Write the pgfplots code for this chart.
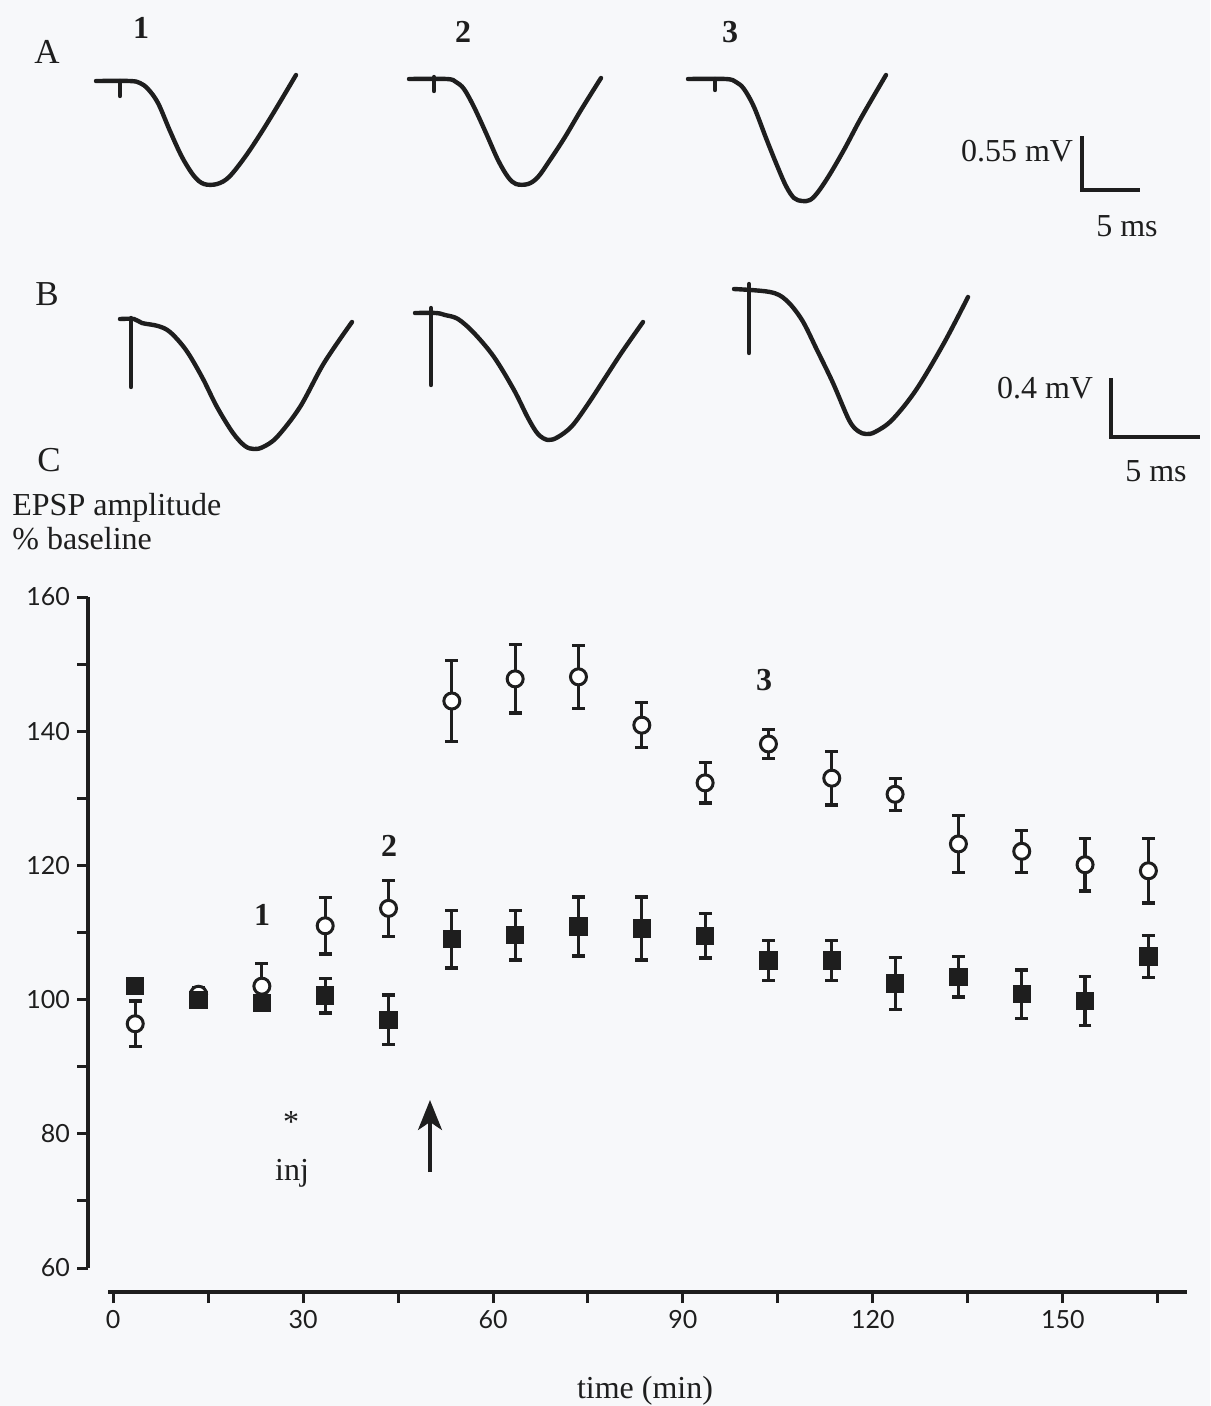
\documentclass[border=0pt]{standalone}
\usepackage{fontspec}
\setmainfont{Liberation Serif}
\newfontfamily\ticksf{Lato}
\usepackage{pgfplots}
\pgfplotsset{compat=1.18}
\usetikzlibrary{arrows.meta}
\definecolor{ink}{HTML}{1E1E1E}
\definecolor{bg}{HTML}{F7F8FA}
\newcommand\txt{\fontsize{16}{19}\selectfont}
\newcommand\btxt{\fontsize{16}{19}\selectfont\bfseries}
\newcommand\ltxt{\fontsize{17.5}{20}\selectfont}
\begin{document}
\begin{tikzpicture}
% ---------- canvas in pixel units (traces, scale bars, texts) ----------
\begin{axis}[at={(0,0)}, anchor=north west, scale only axis,
  width=605pt, height=703pt, xmin=0, xmax=1210, ymin=0, ymax=1406,
  y dir=reverse, axis line style={draw=none}, ticks=none,
  axis background/.style={fill=bg}, clip=false,
  trace/.style={ink, no marks, line width=2.2pt, line join=round, line cap=round, smooth, tension=0.55},
  stim/.style={ink, no marks, line width=2.2pt, line cap=round, sharp plot}]
% traces A
\addplot[trace] coordinates {(96,81) (130,81) (140,83) (148,89) (158,103) (170,131) (182,157) (194,176) (204,184) (217,184) (229,177) (245,157) (261,133) (277,107) (296,75)};
\addplot[stim] coordinates {(120,81) (120,96)};
\addplot[trace] coordinates {(409,79) (447,79) (456,82) (464,89) (474,107) (486,133) (498,160) (508,177) (516,184) (528,184) (538,177) (550,160) (565,137) (581,110) (601,78)};
\addplot[stim] coordinates {(434,77) (434,91)};
\addplot[trace] coordinates {(688,79) (726,79) (736,82) (744,89) (754,107) (766,138) (776,163) (786,186) (794,198) (802,201) (810,200) (818,192) (830,174) (845,148) (861,118) (886,75)};
\addplot[stim] coordinates {(715,79) (715,90)};
% traces B
\addplot[trace] coordinates {(120,319) (134,319) (142,323) (158,326) (170,332) (186,350) (202,377) (217,407) (233,433) (245,446) (254,449) (263,447) (277,437) (300,407) (324,363) (352,322)};
\addplot[stim] coordinates {(131,318) (131,387)};
\addplot[trace] coordinates {(415,313) (436,313) (445,315) (458,319) (474,333) (494,357) (514,390) (528,418) (538,434) (548,440) (558,437) (572,426) (588,404) (605,378) (622,352) (643,322)};
\addplot[stim] coordinates {(431,308) (431,385)};
\addplot[trace] coordinates {(734,289) (770,292) (786,300) (802,320) (817,350) (833,383) (849,420) (858,431) (866,434) (875,432) (892,420) (916,390) (944,343) (968,297)};
\addplot[stim] coordinates {(749,284) (749,353)};
% scale bars
\addplot[stim, line cap=butt] coordinates {(1082,136) (1082,190) (1140,190)};
\addplot[stim, line cap=butt] coordinates {(1111,378) (1111,437) (1200,437)};
% arrow in C
\addplot[ink, no marks, line width=1.6pt, -{Stealth[length=15pt, width=12pt, inset=4pt]}] coordinates {(430,1172) (430,1100)};
% texts
\node[anchor=base, font=\ltxt, text=ink, inner sep=0] at (axis cs:47,63) {A};
\node[anchor=base, font=\ltxt, text=ink, inner sep=0] at (axis cs:47,305) {B};
\node[anchor=base, font=\ltxt, text=ink, inner sep=0] at (axis cs:49,471) {C};
\node[anchor=base, font=\btxt, text=ink, inner sep=0] at (axis cs:141,38) {1};
\node[anchor=base, font=\btxt, text=ink, inner sep=0] at (axis cs:463,42) {2};
\node[anchor=base, font=\btxt, text=ink, inner sep=0] at (axis cs:730,42) {3};
\node[anchor=base, font=\txt, text=ink, inner sep=0] at (axis cs:1017,161) {0.55 mV};
\node[anchor=base, font=\txt, text=ink, inner sep=0] at (axis cs:1127,236) {5 ms};
\node[anchor=base, font=\txt, text=ink, inner sep=0] at (axis cs:1045,398) {0.4 mV};
\node[anchor=base, font=\txt, text=ink, inner sep=0] at (axis cs:1156,481) {5 ms};
\node[anchor=base west, font=\txt, text=ink, inner sep=0] at (axis cs:12,515) {EPSP amplitude};
\node[anchor=base west, font=\txt, text=ink, inner sep=0] at (axis cs:12,549) {\% baseline};
\node[anchor=base, font=\txt, text=ink, inner sep=0] at (axis cs:645,1398) {time (min)};
\node[anchor=base, font=\btxt, text=ink, inner sep=0] at (axis cs:262,925) {1};
\node[anchor=base, font=\btxt, text=ink, inner sep=0] at (axis cs:389,856) {2};
\node[anchor=base, font=\btxt, text=ink, inner sep=0] at (axis cs:764,690) {3};
\node[anchor=center, font=\txt, text=ink, inner sep=0] at (axis cs:291,1122) {*};
\node[anchor=base, font=\txt, text=ink, inner sep=0] at (axis cs:292,1180) {inj};
\end{axis}
% ---------- panel C ----------
\begin{axis}[at={(54pt,-634pt)}, anchor=south west, scale only axis,
  width=539.5pt, height=335.5pt,
  xmin=-0.8, xmax=169.6, ymin=60, ymax=160,
  axis lines=left, axis line style={-, line width=1.7pt, ink},
  axis x line shift=12pt, axis y line shift=10pt,
  xtick={0,30,...,150}, minor xtick={15,45,...,165},
  ytick={60,80,...,160}, minor ytick={70,90,...,150},
  tick align=outside, major tick length=5.5pt, minor tick length=5.5pt,
  every tick/.style={line width=1.5pt, ink},
  every minor tick/.style={line width=1.5pt, ink},
  tick label style={font=\ticksf\fontsize{12.5}{14}\selectfont, text=ink},
  /pgf/number format/assume math mode=true,
  clip=false]
\addplot[only marks, mark=*, mark size=4pt,
  mark options={fill=white, draw=ink, line width=1.5pt},
  error bars/.cd, y dir=both, y explicit,
  error bar style={line width=1.6pt, ink},
  error mark options={rotate=90, line width=1.6pt, ink, mark size=3.2pt}]
coordinates {
(3.5,96.4) +- (0,3.4)
(13.5,100.8) +- (0,1.0)
(23.5,102.0) +- (0,3.4)
(33.5,111.0) +- (0,4.2)
(43.5,113.6) +- (0,4.2)
(53.5,144.5) +- (0,6.0)
(63.5,147.8) +- (0,5.1)
(73.5,148.1) +- (0,4.7)
(83.5,140.9) +- (0,3.35)
(93.5,132.3) +- (0,3.0)
(103.5,138.1) +- (0,2.2)
(113.5,133.0) +- (0,4.0)
(123.5,130.6) +- (0,2.4)
(133.5,123.2) +- (0,4.2)
(143.5,122.1) +- (0,3.1)
(153.5,120.1) +- (0,3.9)
(163.5,119.2) +- (0,4.8)
};
\addplot[only marks, mark=square*, mark size=4.3pt,
  mark options={fill=ink, draw=ink, line width=0.6pt},
  error bars/.cd, y dir=both, y explicit,
  error bar style={line width=1.6pt, ink},
  error mark options={rotate=90, line width=1.6pt, ink, mark size=3.2pt}]
coordinates {
(3.5,102.0) +- (0,1.0)
(13.5,99.9) +- (0,1.0)
(23.5,99.5) +- (0,1.0)
(33.5,100.6) +- (0,2.6)
(43.5,97.0) +- (0,3.7)
(53.5,109.0) +- (0,4.3)
(63.5,109.6) +- (0,3.7)
(73.5,110.9) +- (0,4.4)
(83.5,110.6) +- (0,4.7)
(93.5,109.5) +- (0,3.3)
(103.5,105.8) +- (0,3.0)
(113.5,105.8) +- (0,3.0)
(123.5,102.4) +- (0,3.9)
(133.5,103.4) +- (0,3.0)
(143.5,100.8) +- (0,3.6)
(153.5,99.8) +- (0,3.7)
(163.5,106.4) +- (0,3.1)
};
\end{axis}
\end{tikzpicture}
\end{document}
